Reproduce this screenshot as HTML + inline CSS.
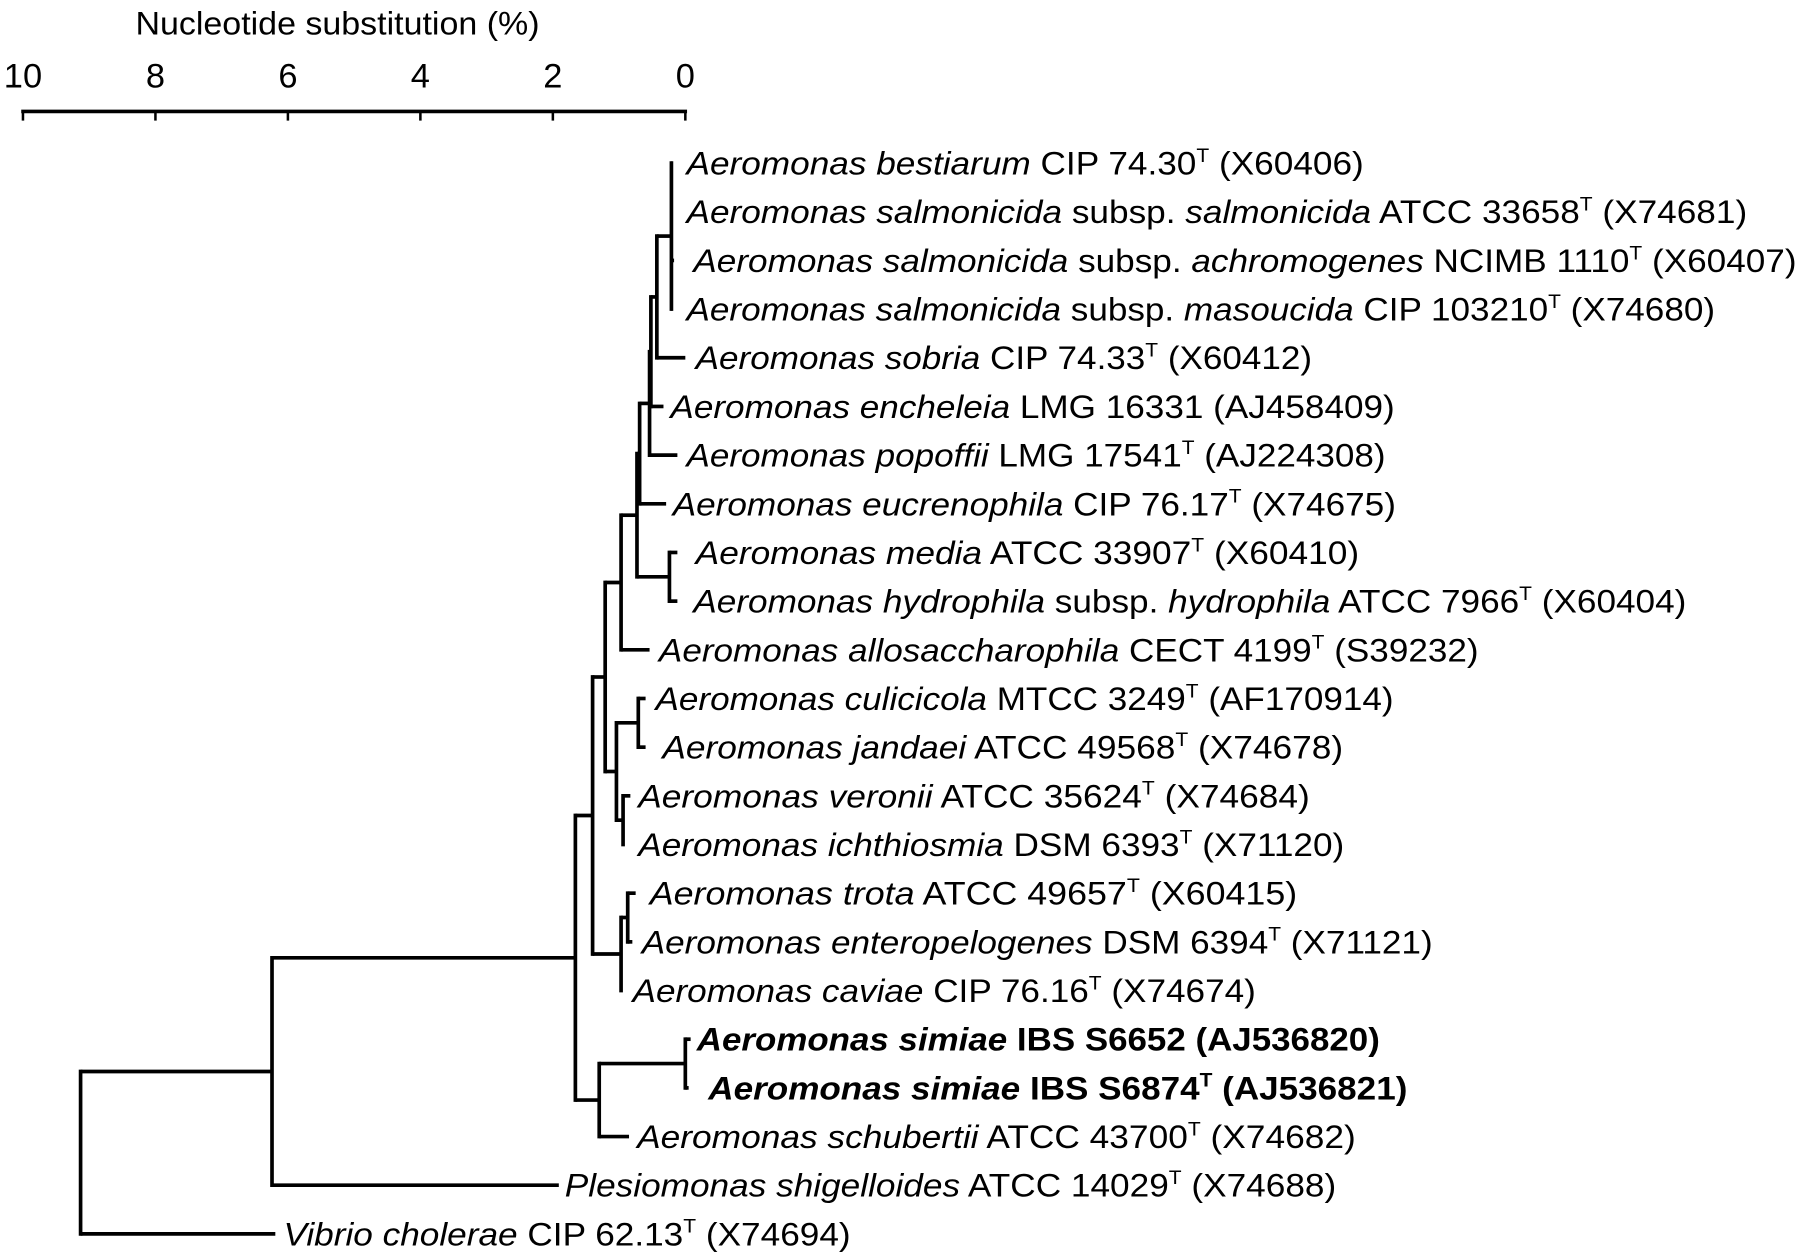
<!DOCTYPE html>
<html><head><meta charset="utf-8">
<style>
html,body{margin:0;padding:0;background:#fff;}
svg{display:block;}
text{font-family:"Liberation Sans",Arial,sans-serif;fill:#000;}
</style></head>
<body>
<svg id="chart" width="1800" height="1256" viewBox="0 0 1568 1094" xmlns="http://www.w3.org/2000/svg">
<g id="axis"></g>
<g id="branches"></g>
<g id="labels"></g>
</svg>
<script>
// ---- data ----
const axisTicks = [10, 8, 6, 4, 2, 0];
const axisTitle = "Nucleotide substitution (%)";
// taxa in display order: [italic name, plain part, italic subsp part, strain, type-strain flag, accession]
const taxa = [
  ["Aeromonas bestiarum", "", "", "CIP 74.30", true, "(X60406)"],
  ["Aeromonas salmonicida", "subsp.", "salmonicida", "ATCC 33658", true, "(X74681)"],
  ["Aeromonas salmonicida", "subsp.", "achromogenes", "NCIMB 1110", true, "(X60407)"],
  ["Aeromonas salmonicida", "subsp.", "masoucida", "CIP 103210", true, "(X74680)"],
  ["Aeromonas sobria", "", "", "CIP 74.33", true, "(X60412)"],
  ["Aeromonas encheleia", "", "", "LMG 16331", false, "(AJ458409)"],
  ["Aeromonas popoffii", "", "", "LMG 17541", true, "(AJ224308)"],
  ["Aeromonas eucrenophila", "", "", "CIP 76.17", true, "(X74675)"],
  ["Aeromonas media", "", "", "ATCC 33907", true, "(X60410)"],
  ["Aeromonas hydrophila", "subsp.", "hydrophila", "ATCC 7966", true, "(X60404)"],
  ["Aeromonas allosaccharophila", "", "", "CECT 4199", true, "(S39232)"],
  ["Aeromonas culicicola", "", "", "MTCC 3249", true, "(AF170914)"],
  ["Aeromonas jandaei", "", "", "ATCC 49568", true, "(X74678)"],
  ["Aeromonas veronii", "", "", "ATCC 35624", true, "(X74684)"],
  ["Aeromonas ichthiosmia", "", "", "DSM 6393", true, "(X71120)"],
  ["Aeromonas trota", "", "", "ATCC 49657", true, "(X60415)"],
  ["Aeromonas enteropelogenes", "", "", "DSM 6394", true, "(X71121)"],
  ["Aeromonas caviae", "", "", "CIP 76.16", true, "(X74674)"],
  ["Aeromonas simiae", "", "", "IBS S6652", false, "(AJ536820)"],
  ["Aeromonas simiae", "", "", "IBS S6874", true, "(AJ536821)"],
  ["Aeromonas schubertii", "", "", "ATCC 43700", true, "(X74682)"],
  ["Plesiomonas shigelloides", "", "", "ATCC 14029", true, "(X74688)"],
  ["Vibrio cholerae", "", "", "CIP 62.13", true, "(X74694)"]
];
const boldTaxa = [18, 19];
// tip positions on the substitution scale (%)
const tipDist = [0.2,0.2,0.17,0.2,0.0,0.33,0.12,0.29,0.12,0.12,0.54,0.6,0.6,0.83,0.94,0.75,0.8,0.97,-0.08,-0.05,0.85,1.91,6.19];
// internal nodes: children (t = tip index, n = node index) and height on scale (%)
const nodeChildren = [
  ["t0","t1","t2","t3"], ["n0","t4"], ["n1","t5"], ["n2","t6"], ["n3","t7"],
  ["t8","t9"], ["n4","n5"], ["n6","t10"], ["t11","t12"], ["t13","t14"],
  ["n8","n9"], ["n7","n10"], ["t15","t16"], ["n12","t17"], ["n11","n13"],
  ["t18","t19"], ["n15","t20"], ["n14","n16"], ["n17","t21"], ["n18","t22"]
];
const nodeHeight = [0.21,0.43,0.52,0.54,0.69,0.24,0.73,0.97,0.71,0.94,1.04,1.21,0.87,0.97,1.40,0.0,1.30,1.66,6.24,9.13];

// ---- layout (pixel positions of label text, not data) ----
const labelStartPx = [598,598,604,598,606,584,598,586,606,604,574,571,577,556,556,566,559,551,607,617,555,492,247];
const labelEndPx = [1188,1522,1565,1494,1143,1215,1207,1216,1184,1469,1288,1214,1170,1141,1171,1130,1248,1094,1202,1226,1181,1164,741];

const NS = "http://www.w3.org/2000/svg";
const X0 = 597, X10 = 20;
const xs = v => X0 - (X0 - X10) * v / 10;
const rowY0 = 142, rowStep = 42.4;
const ys = i => rowY0 + i * rowStep;
const LW = 3.2;

function mk(tag, attrs, parent){
  const e = document.createElementNS(NS, tag);
  for (const k in attrs) e.setAttribute(k, attrs[k]);
  parent.appendChild(e);
  return e;
}

// axis
const axisG = document.getElementById('axis');
const axLine = mk('line', {x1: xs(10)-1.5, x2: xs(0)+1.5, y1: 97, y2: 97, stroke: '#000', 'stroke-width': LW}, axisG);


axisTicks.forEach(t => {
  const tk = mk('line', {x1: xs(t), x2: xs(t), y1: 97, y2: 105, stroke: '#000', 'stroke-width': 2.2}, axisG);
  
  
  const lb = mk('text', {x: xs(t), y: 76, 'text-anchor': 'middle', 'font-size': 30}, axisG);
  lb.textContent = String(t);
  
  
});
const ttl = mk('text', {x: 118, y: 30, 'font-size': 28, textLength: 352, lengthAdjust: 'spacingAndGlyphs'}, axisG);
ttl.textContent = axisTitle;



// tree
const brG = document.getElementById('branches');
const nodeY = [];
function childPos(c){
  const idx = +c.slice(1);
  if (c[0] === 't') return {x: xs(tipDist[idx]), y: ys(idx)};
  return {x: xs(nodeHeight[idx]), y: nodeY[idx]};
}
nodeChildren.forEach((ch, i) => {
  const pts = ch.map(childPos);
  const ymin = Math.min(...pts.map(p => p.y)), ymax = Math.max(...pts.map(p => p.y));
  nodeY[i] = (ymin + ymax) / 2;
  const nx = xs(nodeHeight[i]);
  const v = mk('line', {x1: nx, x2: nx, y1: ymin - LW/2, y2: ymax + LW/2, stroke: '#000', 'stroke-width': LW}, brG);
  
  
  pts.forEach(p => {
    const h = mk('line', {x1: nx, x2: Math.max(p.x, nx + 0.01), y1: p.y, y2: p.y, stroke: '#000', 'stroke-width': LW}, brG);
    
    
  });
});

// labels
const lbG = document.getElementById('labels');
taxa.forEach((t, i) => {
  const bold = boldTaxa.includes(i);
  const tx = mk('text', {x: labelStartPx[i], y: ys(i) + 10, 'font-size': 28.5, 'font-weight': bold ? 'bold' : 'normal',
    textLength: labelEndPx[i] - labelStartPx[i], lengthAdjust: 'spacingAndGlyphs'}, lbG);
  
  
  const parts = [];
  parts.push([t[0], 'i']);
  if (t[1]) { parts.push([' ' + t[1] + ' ', 'n']); parts.push([t[2], 'i']); }
  parts.push([' ' + t[3], 'n']);
  if (t[4]) parts.push(['T', 's']);
  parts.push([' ' + t[5], 'n']);
  let raised = false;
  parts.forEach(p => {
    const s = mk('tspan', {}, tx);
    if (p[1] === 'i') s.setAttribute('font-style', 'italic');
    if (p[1] === 's') { s.setAttribute('font-size', 17); s.setAttribute('dy', -11); raised = true; }
    else if (raised) { s.setAttribute('dy', 11); raised = false; }
    s.textContent = p[0];
  });
});
</script>
</body></html>
